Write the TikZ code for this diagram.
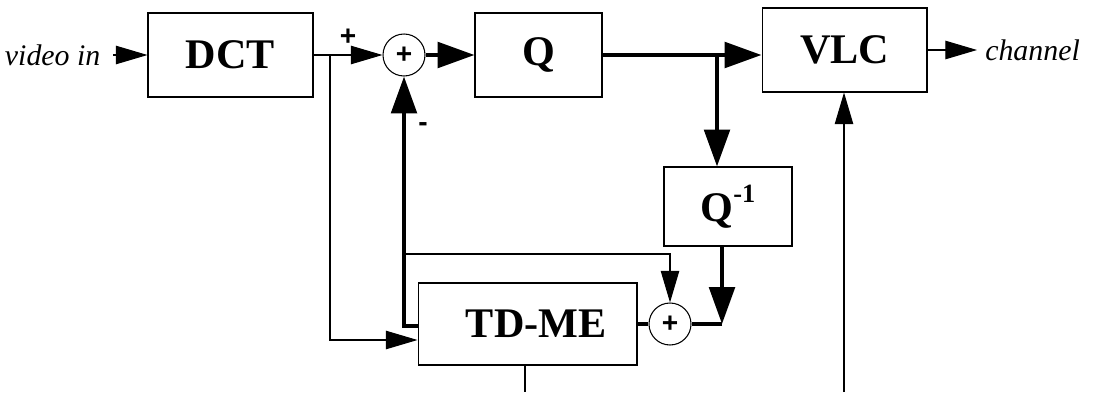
\documentclass[tikz,border=0pt]{standalone}
\usepackage{fontspec}
\setmainfont{Liberation Serif}
\newfontfamily\sinal{Liberation Sans}
\usetikzlibrary{arrows.meta}

\begin{document}
\begin{tikzpicture}[x=0.02cm,y=-0.02cm,
  bloco/.style={draw,line width=0.6pt,font=\fontsize{24}{28}\selectfont\bfseries},
  soma/.style={draw,circle,line width=0.6pt,minimum size=0.84cm,inner sep=0pt,font=\sinal\bfseries\fontsize{16}{16}\selectfont},
  sinalrot/.style={font=\sinal\bfseries\fontsize{16}{16}\selectfont,inner sep=0pt},
  rotulo/.style={font=\fontsize{17}{20}\selectfont\itshape},
  fina/.style={line width=0.6pt,-{Triangle[length=18pt,width=10.5pt]}},
  grossa/.style={line width=2.3pt,-{Triangle[length=21pt,width=14.5pt]}}]
\useasboundingbox (0,0) rectangle (1094,392);
% blocos
\node[bloco,minimum width=3.3cm,minimum height=1.68cm] (dct) at (230.5,55) {DCT};
\node[soma] (som1) at (404,55) {+};
\node[bloco,minimum width=2.54cm,minimum height=1.68cm] (q) at (538.5,55) {Q};
\node[bloco,minimum width=3.3cm,minimum height=1.68cm] (vlc) at (844.5,50) {VLC};
\node[bloco,minimum width=2.56cm,minimum height=1.58cm] (qinv) at (728,206.5) {Q\raisebox{11pt}{\fontsize{15}{15}\selectfont -1}};
\node[bloco,minimum width=4.38cm,minimum height=1.64cm] (tdme) at (527.5,324) {\hspace*{0.35cm}TD-ME};
\node[soma] (som2) at (670,324) {+};
% entrada e saida
\node[rotulo,anchor=east,inner sep=7pt] (vin) at (113,55) {video in};
\node[rotulo,anchor=west,inner sep=4.5pt] (canal) at (977,50) {channel};
\node[sinalrot] (mais) at (348,37) {+};
\node[sinalrot] (menos) at (423,127) {-};
% pontos de ramificacao
\coordinate (b1) at (330,55);
\coordinate (b2) at (330,340);
\coordinate (b3) at (717,55);
\coordinate (c1) at (722,324);
\coordinate (c2) at (404,326);
\coordinate (c3) at (406,254);
\coordinate (c4) at (525,392);
\coordinate (c5) at (844,392);
% caminho direto
\draw[fina] (vin) -- (dct);
\draw[fina] (dct) -- (som1);
\draw[grossa] (som1) -- (q);
\draw[grossa] (q.east) -- (q.east -| vlc.west);
\draw[fina] (vlc) -- (canal);
% realimentacao
\draw[fina] (b1) -- (b2) -- (b2 -| tdme.west);
\draw[grossa] (b3) -- (b3 |- qinv.north);
\draw[grossa] (qinv.south -| c1) -- (c1);
\draw[line width=2.3pt] (c1) -- (som2);
\draw[line width=2.3pt] (som2) -- (tdme);
\draw[grossa] (c2 -| tdme.west) -- (c2) -- (som1);
\draw[fina] (c3) -| (som2);
\draw[line width=0.6pt] (tdme.south -| c4) -- (c4);
\draw[fina] (c5) -- (c5 |- vlc.south);
\end{tikzpicture}
\end{document}
